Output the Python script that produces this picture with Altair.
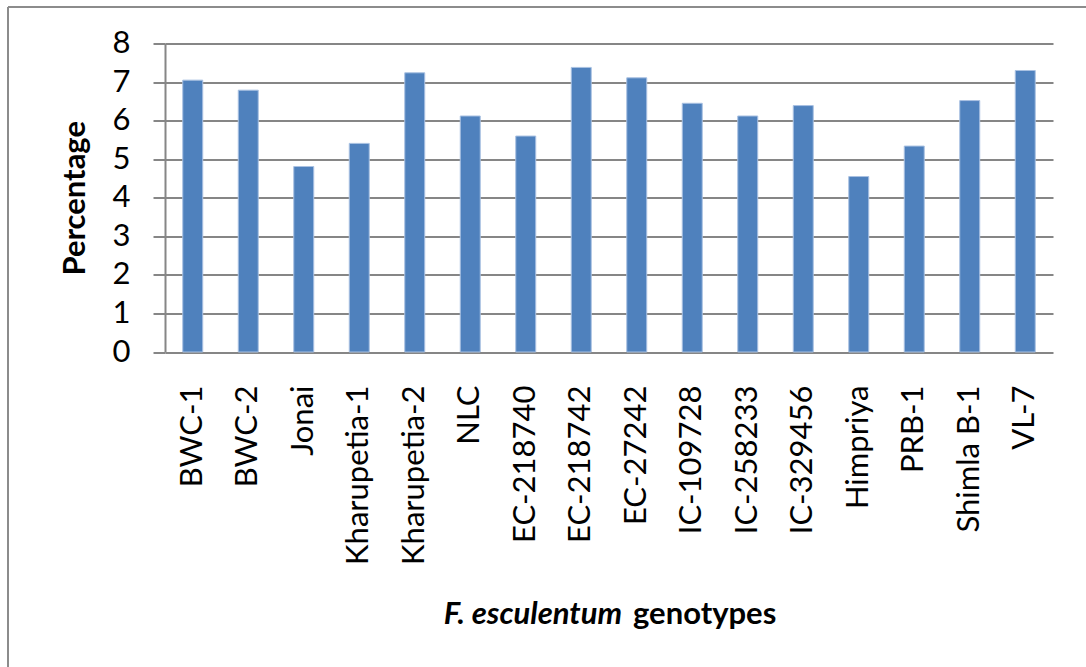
import altair as alt
import pandas as pd

# Genotypes and their measured percentage
genotypes = [
    "BWC-1", "BWC-2", "Jonai", "Kharupetia-1", "Kharupetia-2", "NLC",
    "EC-218740", "EC-218742", "EC-27242", "IC-109728", "IC-258233",
    "IC-329456", "Himpriya", "PRB-1", "Shimla B-1", "VL-7",
]
percentage = [
    7.05, 6.79, 4.81, 5.41, 7.24, 6.12,
    5.60, 7.38, 7.11, 6.45, 6.12,
    6.39, 4.55, 5.34, 6.52, 7.30,
]
y_ticks = [0, 1, 2, 3, 4, 5, 6, 7, 8]

FONT = "Lato"
GRID = "#868686"
BAR = "#4F81BD"

# plot-area geometry (pixels)
LEFT, TOP = 165, 43.5
W, H = 888, 308.5
TOTAL_W, TOTAL_H = 1086, 667

df = pd.DataFrame({"genotype": genotypes, "percentage": percentage})

bars = alt.Chart(df).mark_bar(color=BAR, stroke="#a9c1e2", strokeWidth=1).encode(
    x=alt.X(
        "genotype:N",
        sort=genotypes,
        scale=alt.Scale(paddingInner=0.64, paddingOuter=0.32),
        axis=alt.Axis(
            title=None,
            labelAngle=-90,
            labelAlign="right",
            labelBaseline="middle",
            labelPadding=33,
            ticks=False,
            domain=False,
            labelFont=FONT,
            labelFontSize=31,
            labelColor="#000000",
            labelOverlap=False,
        ),
    ),
    y=alt.Y(
        "percentage:Q",
        scale=alt.Scale(domain=[0, 8], nice=False, zero=True),
        axis=alt.Axis(
            values=y_ticks,
            format="d",
            title="Percentage",
            grid=True,
            gridColor=GRID,
            gridWidth=2,
            gridOpacity=1,
            tickColor=GRID,
            tickSize=12,
            tickWidth=2,
            domainColor=GRID,
            domainWidth=2,
            labelPadding=23,
            labelFont=FONT,
            labelFontSize=31,
            labelColor="#000000",
            titleFont=FONT,
            titleFontSize=31,
            titleFontWeight="bold",
            titleColor="#000000",
            titleAngle=-90,
            titleAlign="center",
            titleBaseline="middle",
            titleX=-90,
            titleY=H / 2,
        ),
    ),
)

one = pd.DataFrame({"k": [0]})

# outer chart-area frame (top and left edges)
frame_top = alt.Chart(one).mark_rule(color="#8c8c8c", strokeWidth=2).encode(
    x=alt.value(8 - LEFT), x2=alt.value(TOTAL_W - LEFT), y=alt.value(7 - TOP)
)
frame_left = alt.Chart(one).mark_rule(color="#8c8c8c", strokeWidth=2).encode(
    x=alt.value(8 - LEFT), y=alt.value(7 - TOP), y2=alt.value(TOTAL_H - TOP)
)

# x-axis title with the italic species name
title_y = 615 - TOP
title_italic = alt.Chart(one).mark_text(
    text="F. esculentum", font=FONT, fontSize=31, fontWeight="bold",
    fontStyle="italic", align="right", baseline="middle", color="#000000",
).encode(x=alt.value(622 - LEFT), y=alt.value(title_y))
title_plain = alt.Chart(one).mark_text(
    text="genotypes", font=FONT, fontSize=31, fontWeight="bold",
    align="left", baseline="middle", color="#000000",
).encode(x=alt.value(633 - LEFT), y=alt.value(title_y))

chart = alt.layer(bars, frame_top, frame_left, title_italic, title_plain).properties(
    width=W,
    height=H,
    autosize="none",
    padding={"left": LEFT, "top": TOP, "right": TOTAL_W - LEFT - W, "bottom": TOTAL_H - TOP - H},
    background="white",
).configure_view(stroke=None)

chart.save("out.html", embed_options={"renderer": "svg", "actions": False})
